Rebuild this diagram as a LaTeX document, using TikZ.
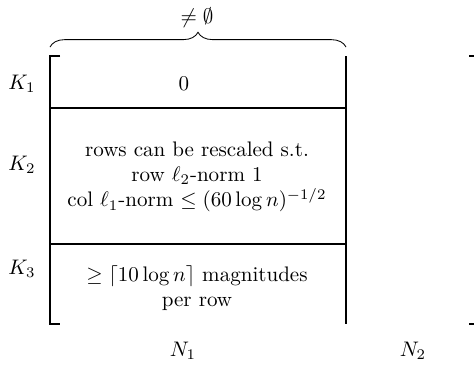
\documentclass[tikz,border=0pt]{standalone}
\usetikzlibrary{decorations.pathreplacing}
\begin{document}
\begin{tikzpicture}[x=0.475pt,y=-0.475pt,
  bar/.style={line width=0.9pt},
  lbl/.style={inner sep=0pt,anchor=center},
  txt/.style={inner sep=0pt,align=center,anchor=center}]
\useasboundingbox (0,0) rectangle (474,365);
\clip (0,0) rectangle (474,365);
% corners
\coordinate (tl) at (50,56);
\coordinate (bl) at (50,324);
\coordinate (tr) at (346,56);
\coordinate (br) at (346,324);
\coordinate (h1l) at (50,108);
\coordinate (h1r) at (346,108);
\coordinate (h2l) at (50,244);
\coordinate (h2r) at (346,244);
\coordinate (tlt) at (60,56);
\coordinate (blt) at (60,324);
\coordinate (rtt) at (469,56);
\coordinate (rbt) at (469,324);
\coordinate (rt) at (479,56);
\coordinate (rb) at (479,324);
\coordinate (bs) at (50,47);
\coordinate (be) at (346,47);
% bracket and lines
\draw[bar] (tlt) -- (tl) -- (bl) -- (blt);
\draw[bar] (rtt) -- (rt) -- (rb) -- (rbt);
\draw[bar] (tr) -- (br);
\draw[bar] (h1l) -- (h1r);
\draw[bar] (h2l) -- (h2r);
% brace
\draw[decorate,decoration={brace,amplitude=7}] (bs) -- (be);
\node[lbl] (ne) at (197,18) {$\neq\emptyset$};
% labels
\node[lbl] (k1) at (22,84) {$K_1$};
\node[lbl] (k2) at (22,165) {$K_2$};
\node[lbl] (k3) at (22,269) {$K_3$};
\node[lbl] (n1) at (183,351) {$N_1$};
\node[lbl] (n2) at (413,351) {$N_2$};
% contents
\node[lbl] (zero) at (184,84) {$0$};
\node[txt] (b2) at (197,177) {rows can be rescaled s.t.\\ row $\ell_2$-norm 1\\ col $\ell_1$-norm $\le (60\log n)^{-1/2}$};
\node[txt] (b3) at (197,288) {$\geq \lceil 10\log n\rceil$ magnitudes\\ per row};
\end{tikzpicture}
\end{document}
